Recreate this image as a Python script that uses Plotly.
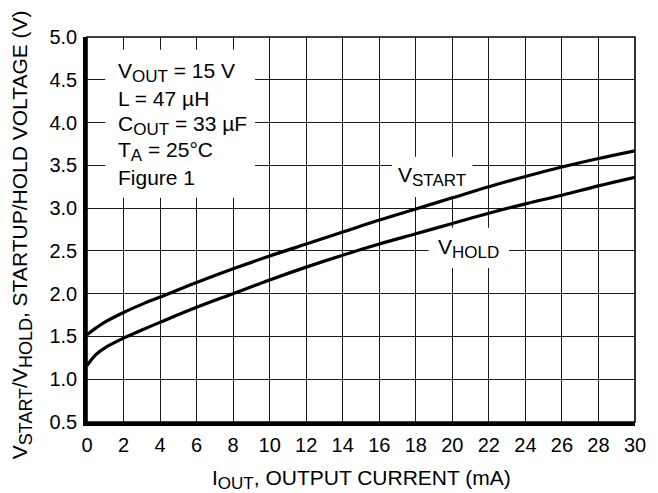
import plotly.graph_objects as go

iout = [0, 0.5, 1, 2, 3, 4, 6, 8, 10, 12, 14, 16, 18, 20, 22, 24, 26, 28, 30]
v_start = [1.52, 1.60, 1.67, 1.78, 1.875, 1.96, 2.13, 2.29, 2.44, 2.58, 2.72, 2.86, 2.99, 3.12, 3.25, 3.37, 3.48, 3.58, 3.67]
v_hold = [1.16, 1.29, 1.37, 1.48, 1.575, 1.665, 1.84, 2.00, 2.16, 2.31, 2.45, 2.58, 2.70, 2.82, 2.94, 3.05, 3.15, 3.26, 3.36]

x_ticks = list(range(0, 31, 2))
y_ticks = [0.5, 1.0, 1.5, 2.0, 2.5, 3.0, 3.5, 4.0, 4.5, 5.0]
y_tick_text = ["%.1f" % v for v in y_ticks]

FONT = "Liberation Sans, Arial, sans-serif"


def sub(s, size=17):
    return "<sub><span style='font-size:%gpx'>%s</span></sub>" % (size, s)


fig = go.Figure()
fig.add_trace(go.Scatter(x=iout, y=v_start, mode="lines",
                         line=dict(color="black", width=3.2, shape="spline", smoothing=1.0), showlegend=False))
fig.add_trace(go.Scatter(x=iout, y=v_hold, mode="lines",
                         line=dict(color="black", width=3.2, shape="spline", smoothing=1.0), showlegend=False))

# white boxes masking the grid behind labels
fig.add_shape(type="rect", xref="x", yref="y", x0=1.0, x1=9.2, y0=3.12, y1=4.85,
              fillcolor="white", line=dict(width=0), layer="between")
fig.add_shape(type="rect", xref="x", yref="y", x0=16.7, x1=21.1, y0=3.13, y1=3.6,
              fillcolor="white", line=dict(width=0), layer="between")
fig.add_shape(type="rect", xref="x", yref="y", x0=18.7, x1=23.1, y0=2.3, y1=2.77,
              fillcolor="white", line=dict(width=0), layer="between")

# top/right frame (thinner)
fig.add_shape(type="rect", xref="paper", yref="paper", x0=0, x1=1, y0=0, y1=1,
              line=dict(color="black", width=1.6), layer="above")

tf = dict(family=FONT, size=21, color="black")
tickf = dict(family=FONT, size=20, color="black")
lines = [
    ("V" + sub("OUT") + " = 15 V", 4.59),
    ("L = 47 \u00b5H", 4.28),
    ("C" + sub("OUT") + " = 33 \u00b5F", 3.97),
    ("T" + sub("A") + " = 25\u00b0C", 3.66),
    ("Figure 1", 3.36),
]
for txt, yv in lines:
    fig.add_annotation(x=1.6, y=yv, xref="x", yref="y", text=txt, showarrow=False,
                       xanchor="left", yanchor="middle", font=tf)

fig.add_annotation(x=18.9, y=3.37, xref="x", yref="y", text="V" + sub("START"), showarrow=False,
                   xanchor="center", yanchor="middle", font=tf)
fig.add_annotation(x=20.9, y=2.53, xref="x", yref="y", text="V" + sub("HOLD"), showarrow=False,
                   xanchor="center", yanchor="middle", font=tf)

fig.add_annotation(x=0.5, y=-0.15, xref="paper", yref="paper",
                   text="I" + sub("OUT") + ", OUTPUT CURRENT (mA)", showarrow=False,
                   xanchor="center", yanchor="middle", font=tf)
fig.add_annotation(x=-0.119, y=0.487, xref="paper", yref="paper",
                   text="V" + sub("START", 18) + "/V" + sub("HOLD", 18) + ", STARTUP/HOLD VOLTAGE (V)",
                   showarrow=False, textangle=-90, xanchor="center", yanchor="middle",
                   font=dict(family=FONT, size=21, color="black"))

fig.update_xaxes(range=[0, 30], tickvals=x_ticks, ticktext=[str(v) for v in x_ticks],
                 showgrid=True, gridcolor="#1a1a1a", gridwidth=1.3,
                 showline=True, linecolor="black", linewidth=3.5, ticks="",
                 zeroline=False, tickfont=tickf, ticklabelstandoff=2)
fig.update_yaxes(range=[0.5, 5.0], tickvals=y_ticks, ticktext=y_tick_text,
                 showgrid=True, gridcolor="#1a1a1a", gridwidth=1.3,
                 showline=True, linecolor="black", linewidth=3.5, ticks="",
                 zeroline=False, tickfont=tickf, ticklabelstandoff=2)

# page body adds an 8px offset; compensate so the plot lands where the reference has it
fig.update_layout(width=650, height=485, margin=dict(l=79, r=23, t=29, b=71),
                  paper_bgcolor="white", plot_bgcolor="white", font=tf)

fig.write_html("out.html")
